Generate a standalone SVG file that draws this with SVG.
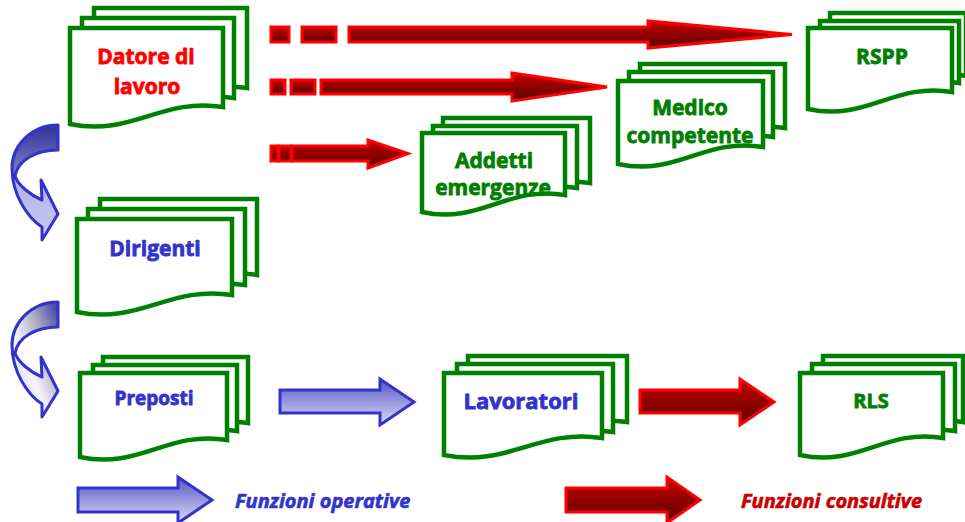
<svg xmlns="http://www.w3.org/2000/svg" width="965" height="522" viewBox="0 0 965 522">
<defs>
<linearGradient id="gRed" x1="0" y1="0" x2="0" y2="1">
<stop offset="0" stop-color="#c80000"/>
<stop offset="1" stop-color="#5a0000"/>
</linearGradient>
<linearGradient id="gBlue" x1="0" y1="0" x2="0" y2="1">
<stop offset="0" stop-color="#5454c4"/>
<stop offset="1" stop-color="#dcdcf8"/>
</linearGradient>
<linearGradient id="gCurve1" x1="0" y1="0" x2="0" y2="1">
<stop offset="0" stop-color="#30309c"/>
<stop offset="0.4" stop-color="#7a7ac4"/>
<stop offset="0.5" stop-color="#b4b4ea"/>
<stop offset="1" stop-color="#c8c8f4"/>
</linearGradient>
<linearGradient id="gCurve2" x1="1" y1="0" x2="0" y2="1">
<stop offset="0" stop-color="#3a3aa0"/>
<stop offset="0.35" stop-color="#b4b4c8"/>
<stop offset="0.6" stop-color="#f4f4fa"/>
<stop offset="1" stop-color="#c8c8f0"/>
</linearGradient>
<style>
.doc{fill:#ffffff;stroke:#008000;stroke-width:4.5;stroke-linejoin:miter}
.ra{fill:url(#gRed);stroke:#ff0000;stroke-width:3}
.ba{fill:url(#gBlue);stroke:#3333cc;stroke-width:3}
.t{font-family:"Open Sans","DejaVu Sans",sans-serif;font-weight:700;text-anchor:middle;stroke-width:0.8px}
.red{fill:#ff0000;stroke:#ff0000}
.grn{fill:#008000;stroke:#008000}
.blu{fill:#3333cc;stroke:#3333cc}
.leg{font-family:"Open Sans","DejaVu Sans",sans-serif;font-weight:700;font-style:italic;font-size:20px;stroke-width:0.6px}
.lred{fill:#cc0000;stroke:#cc0000}
</style>
</defs>

<g id="connectors">
<!-- to RSPP -->
<rect class="ra" x="271" y="27" width="18" height="15"/>
<rect class="ra" x="302" y="27" width="34" height="15"/>
<path class="ra" d="M349,27 H648 V21 L792,34.5 L648,48 V42 H349 Z"/>
<!-- to Medico -->
<rect class="ra" x="271" y="80" width="14" height="14"/>
<rect class="ra" x="291" y="80" width="24" height="14"/>
<path class="ra" d="M321,80 H512 V73 L607,87 L512,101 V94 H321 Z"/>
<!-- to Addetti -->
<rect class="ra" x="271" y="146" width="7" height="15"/>
<rect class="ra" x="279" y="146" width="12" height="15"/>
<path class="ra" d="M292,146 H368 V140 L408,153.5 L368,168 V161 H292 Z"/>
<!-- curved arrows -->
<path fill="url(#gCurve1)" stroke="#3333cc" stroke-width="3" stroke-linejoin="round" d="M58,125 C32,125 12,145 12,168 C12,195 28,218 42,227 L42,240 L58,214 L41,180 L42,200 C30,195 18,185 15,176 C18,160 36,150 58,150 Z"/>
<path fill="url(#gCurve2)" stroke="#3333cc" stroke-width="3" stroke-linejoin="round" transform="translate(0,177)" d="M58,125 C32,125 12,145 12,168 C12,195 28,218 42,227 L42,240 L58,214 L41,180 L42,200 C30,195 18,185 15,176 C18,160 36,150 58,150 Z"/>
<!-- Preposti to Lavoratori -->
<path class="ba" d="M280,390 H380 V379 L414,402 L380,425 V413 H280 Z"/>
<!-- Lavoratori to RLS -->
<path class="ra" d="M640,390 H740 V379 L774,402 L740,425 V413 H640 Z"/>
</g>

<g id="datore">
<path class="doc" d="M94,8 H247 V88 C185.8,78 155.2,118 94,105 Z"/>
<path class="doc" d="M82,18 H234 V98 C173.2,88 142.8,128 82,115 Z"/>
<path class="doc" d="M70,28 H223 V107 C161.8,97 131.2,137 70,124 Z"/>
<text class="t red" font-size="21" x="146" y="64">Datore di</text>
<text class="t red" font-size="21" x="147" y="94">lavoro</text>
</g>

<g id="addetti">
<path class="doc" d="M443,118 H590 V183 C531.2,173 501.8,213 443,200 Z"/>
<path class="doc" d="M433,126 H577 V188 C519.4,178 490.6,218 433,205 Z"/>
<path class="doc" d="M422,133 H565 V195 C507.8,185 479.2,225 422,212 Z"/>
<text class="t grn" font-size="21" x="494" y="168">Addetti</text>
<text class="t grn" font-size="21" x="493" y="195">emergenze</text>
</g>

<g id="medico">
<path class="doc" d="M640,64 H785 V128 C727,118 698,158 640,145 Z"/>
<path class="doc" d="M629,72 H773 V137 C715.4,127 686.6,167 629,154 Z"/>
<path class="doc" d="M618,81 H763 V147 C705,137 676,177 618,164 Z"/>
<text class="t grn" font-size="21" x="690" y="115">Medico</text>
<text class="t grn" font-size="21" x="690" y="143">competente</text>
</g>

<g id="rspp">
<path class="doc" d="M830,13 H966 V76 C911.6,66 884.4,106 830,93 Z"/>
<path class="doc" d="M820,21 H959 V83 C903.4,73 875.6,113 820,100 Z"/>
<path class="doc" d="M808,28 H952 V92 C894.4,82 865.6,122 808,109 Z"/>
<text class="t grn" font-size="21" x="882" y="64">RSPP</text>
</g>

<g id="dirigenti">
<path class="doc" d="M100,199 H257 V275 C194.2,265 162.8,305 100,292 Z"/>
<path class="doc" d="M88,209 H245 V285 C182.2,275 150.8,315 88,302 Z"/>
<path class="doc" d="M77,219 H232 V295 C170,285 139,325 77,312 Z"/>
<text class="t blu" font-size="21" x="155" y="256">Dirigenti</text>
</g>

<g id="preposti">
<path class="doc" d="M103,357 H248 V423 C190,413 161,453 103,440 Z"/>
<path class="doc" d="M93,365 H237 V431 C179.4,421 150.6,461 93,448 Z"/>
<path class="doc" d="M80,373 H227 V440 C168.2,430 138.8,470 80,457 Z"/>
<text class="t blu" font-size="19" x="154" y="405">Preposti</text>
</g>

<g id="lavoratori">
<path class="doc" d="M468,356 H627 V422 C563.4,412 531.6,452 468,439 Z"/>
<path class="doc" d="M457,364 H613 V432 C550.6,422 519.4,462 457,449 Z"/>
<path class="doc" d="M444,373 H602 V438 C538.8,428 507.2,468 444,455 Z"/>
<text class="t blu" font-size="22" x="521" y="409">Lavoratori</text>
</g>

<g id="rls">
<path class="doc" d="M823,356 H963 V422 C907,412 879,452 823,439 Z"/>
<path class="doc" d="M812,364 H955 V431 C897.2,421 869.2,461 812,448 Z"/>
<path class="doc" d="M800,373 H943 V438 C885.8,428 857.2,468 800,455 Z"/>
<text class="t grn" font-size="20" x="871" y="408">RLS</text>
</g>

<g id="legend">
<path class="ba" d="M78,488 H178 V477 L212,500 L178,523 V512 H78 Z"/>
<text class="leg blu" x="235" y="508">Funzioni operative</text>
<path class="ra" d="M566,488 H667 V477 L700,500 L667,523 V512 H566 Z"/>
<text class="leg lred" x="741" y="508">Funzioni consultive</text>
</g>
</svg>
